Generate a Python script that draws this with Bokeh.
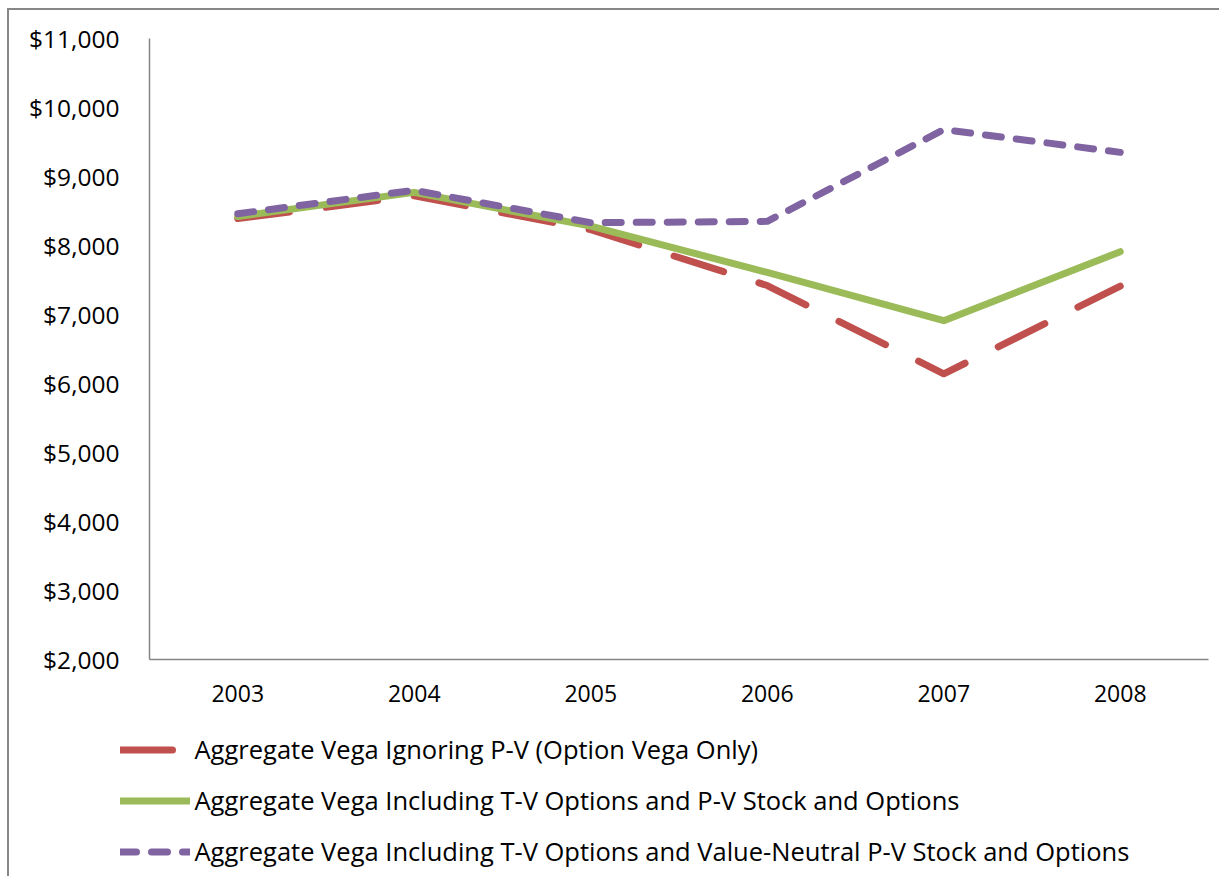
from bokeh.plotting import figure
from bokeh.models import (FactorRange, Range1d, FixedTicker, NumeralTickFormatter,
                          Legend, LegendItem)
from bokeh.embed import file_html
from bokeh.resources import INLINE

# ---- data ----
years = ["2003", "2004", "2005", "2006", "2007", "2008"]
vega_ignoring_pv = [8390, 8720, 8230, 7420, 6140, 7410]
vega_tv_pv = [8420, 8770, 8280, 7610, 6910, 7910]
vega_tv_value_neutral = [8460, 8800, 8330, 8350, 9680, 9350]
series_labels = [
    "Aggregate Vega Ignoring P-V (Option Vega Only)",
    "Aggregate Vega Including T-V Options and P-V Stock and Options",
    "Aggregate Vega Including T-V Options and Value-Neutral P-V Stock and Options",
]
y_ticks = [2000, 3000, 4000, 5000, 6000, 7000, 8000, 9000, 10000, 11000]

FONT = "Open Sans"
RED = "#C0504D"
GREEN = "#9BBB59"
PURPLE = "#8064A2"
AXIS = "#868686"
BORDER = "2px solid #878787"
styles = [dict(line_color=RED, line_width=7, line_dash="52 37"),
          dict(line_color=GREEN, line_width=7, line_dash="solid"),
          dict(line_color=PURPLE, line_width=7, line_dash="16 15")]
series = [vega_ignoring_pv, vega_tv_pv, vega_tv_value_neutral]

# ---- main chart ----
p = figure(width=1212, height=710,
           x_range=FactorRange(factors=years),
           y_range=Range1d(2000, 11000),
           output_backend="svg", toolbar_location=None,
           min_border_left=140, min_border_right=13,
           min_border_top=28, min_border_bottom=61)
p.styles = {"border-left": BORDER, "border-top": BORDER,
            "margin-left": "7px", "margin-top": "8px"}
p.xgrid.visible = False
p.ygrid.visible = False
p.outline_line_color = None

for vals, st in zip(series, styles):
    p.line(years, vals, line_cap="round", line_join="round", **st)

p.yaxis.ticker = FixedTicker(ticks=y_ticks)
p.yaxis.formatter = NumeralTickFormatter(format="$0,0")
for ax in (p.xaxis[0], p.yaxis[0]):
    ax.axis_line_color = AXIS
    ax.axis_line_width = 1.5
    ax.major_tick_line_color = None
    ax.minor_tick_line_color = None
    ax.major_label_text_font = FONT
    ax.major_label_text_color = "black"
p.xaxis.major_label_text_font_size = "23px"
p.yaxis.major_label_text_font_size = "24.5px"
p.yaxis.major_label_standoff = 24
p.xaxis.major_label_standoff = 19

# ---- legend strip (separate root, so it is not frame-aligned) ----
q = figure(width=1212, height=158,
           x_range=FactorRange(factors=years), y_range=Range1d(0, 1),
           output_backend="svg", toolbar_location=None,
           x_axis_location=None, y_axis_location=None,
           min_border=0, min_border_left=0, min_border_right=0,
           min_border_top=0, min_border_bottom=0)
q.styles = {"border-left": BORDER, "margin-left": "7px"}
q.xgrid.visible = False
q.ygrid.visible = False
q.outline_line_color = None
items = []
for label, vals, st in zip(series_labels, series, styles):
    r = q.line(years, vals, line_cap="round", line_join="round", visible=False, **st)
    items.append(LegendItem(label=label, renderers=[r]))
legend = Legend(items=items, location=(110.5, 7.5), orientation="vertical",
                background_fill_alpha=0, border_line_color=None,
                inactive_fill_alpha=0,
                padding=0, margin=0, spacing=16,
                label_height=35, glyph_height=35, glyph_width=70,
                label_standoff=5,
                label_text_font=FONT, label_text_font_size="25.5px",
                label_text_color="black")
q.add_layout(legend)

open("out.html", "w").write(file_html([p, q], INLINE))
